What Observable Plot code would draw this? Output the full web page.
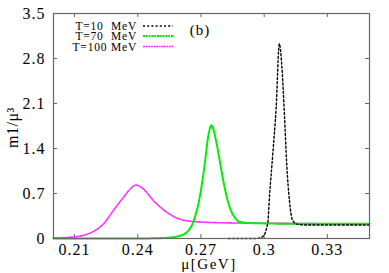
<!DOCTYPE html>
<html>
<head>
<meta charset="utf-8">
<script src="https://cdn.jsdelivr.net/npm/d3@7"></script>
<script src="https://cdn.jsdelivr.net/npm/@observablehq/plot@0.6"></script>
<style>
  html, body { margin: 0; padding: 0; background: #fff; }
  svg { display: block; }
</style>
</head>
<body>
<div id="chart"></div>
<script>
// ---- data ----
const mu10 = [0.283, 0.290, 0.296, 0.2993, 0.3017, 0.3025, 0.3041, 0.3057, 0.3072, 0.3083, 0.3096, 0.3107, 0.3120, 0.3135, 0.3159, 0.320, 0.330, 0.340, 0.350];
const m10  = [0.0,   0.0,   0.0,   0.03,   0.24,   0.64,   1.32,   2.04,   3.03,   2.72,   1.94,   1.16,   0.59,   0.28,   0.22,   0.21,  0.21,  0.21,  0.21];

const mu70 = [0.200, 0.210, 0.220, 0.230, 0.240, 0.250, 0.2553, 0.260, 0.2647, 0.2671, 0.2694, 0.2718, 0.2734, 0.2750, 0.2773, 0.2789, 0.2812, 0.2836, 0.2860, 0.2883, 0.2931, 0.300, 0.310, 0.320, 0.330, 0.340, 0.350];
const m70  = [0.0,   0.0,   0.0,   0.0,   0.0,   0.005, 0.015,  0.04,  0.15,   0.33,   0.64,   1.16,   1.58,   1.76,   1.50,   1.21,   0.80,   0.49,   0.33,   0.26,   0.24,   0.235, 0.23,  0.23,  0.23,  0.23,  0.23];

const mu100 = [0.200, 0.208, 0.2143, 0.219, 0.2238, 0.2285, 0.2332, 0.2364, 0.2392, 0.2427, 0.2474, 0.2521, 0.2592, 0.2647, 0.2742, 0.290, 0.310, 0.330, 0.350];
const m100  = [0.01,  0.02,  0.05,   0.11,  0.23,   0.44,   0.64,   0.77,   0.83,   0.77,   0.59,   0.45,   0.31,   0.27,   0.25,   0.24,  0.235, 0.23,  0.23];

const seriesLabels = ["T=10  MeV", "T=70  MeV", "T=100 MeV"];
const xTicks = [0.21, 0.24, 0.27, 0.30, 0.33];
const xTickLabels = ["0.21", "0.24", "0.27", "0.3", "0.33"];
const yTicks = [0, 0.7, 1.4, 2.1, 2.8, 3.5];
const yTickLabels = ["0", "0.7", "1.4", "2.1", "2.8", "3.5"];

const toRows = (xs, ys) => xs.map((x, i) => ({x, y: ys[i]}));
const d10 = toRows(mu10, m10), d70 = toRows(mu70, m70), d100 = toRows(mu100, m100);

const styles = [
  {stroke: "#000000", dash: "2,2.2", width: 1.4},
  {stroke: "#00ee00", dash: "2,0.8", width: 2},
  {stroke: "#ff33ff", dash: "2,0.6", width: 1.6}
];

const W = 389, H = 273;
const mL = 53, mR = 20, mT = 13, mB = 35;
const frameH = H - mT - mB, frameW = W - mL - mR;
const T = 4; // tick length
const font = "'Liberation Serif', 'DejaVu Serif', serif";

const chart = Plot.plot({
  width: W, height: H,
  marginLeft: mL, marginRight: mR, marginTop: mT, marginBottom: mB,
  style: {fontFamily: font, fontSize: "16px", letterSpacing: "1px", color: "#000", background: "#fff", overflow: "visible"},
  x: {domain: [0.2, 0.35]},
  y: {domain: [0, 3.5]},
  marks: [
    // inward ticks, all four sides
    Plot.ruleX(xTicks, {x: d => d, insetTop: frameH - T, stroke: "#666"}),
    Plot.ruleX(xTicks, {x: d => d, insetBottom: frameH - T, stroke: "#666"}),
    Plot.ruleY(yTicks, {y: d => d, insetRight: frameW - T, stroke: "#666"}),
    Plot.ruleY(yTicks, {y: d => d, insetLeft: frameW - T, stroke: "#666"}),
    Plot.axisX({ticks: xTicks, tickSize: 0, tickPadding: 5, tickFormat: (d, i) => xTickLabels[i], fontSize: 16, label: null}),
    Plot.axisY({ticks: yTicks, tickSize: 0, tickPadding: 8, tickFormat: (d, i) => yTickLabels[i], fontSize: 16, label: null}),
    Plot.line(d100, {x: "x", y: "y", curve: "monotone-x", stroke: styles[2].stroke, strokeWidth: styles[2].width, strokeDasharray: styles[2].dash}),
    Plot.line(d70, {x: "x", y: "y", curve: "monotone-x", stroke: styles[1].stroke, strokeWidth: styles[1].width, strokeDasharray: styles[1].dash}),
    Plot.line(d10, {x: "x", y: "y", curve: "monotone-x", stroke: styles[0].stroke, strokeWidth: styles[0].width, strokeDasharray: styles[0].dash}),
    Plot.frame({stroke: "#666", strokeWidth: 1.2})
  ]
});

const svg = d3.select(chart);

// axis titles
svg.append("text")
  .attr("transform", `translate(18,${mT + frameH / 2 + 2}) rotate(-90)`)
  .attr("text-anchor", "middle")
  .attr("font-family", font).attr("font-size", 16).attr("fill", "#000")
  .style("letter-spacing", "0.5px")
  .text("m1/μ³");
svg.append("text")
  .attr("x", 209).attr("y", 269)
  .attr("text-anchor", "middle")
  .attr("font-family", font).attr("font-size", 15).attr("fill", "#000")
  .style("letter-spacing", "1.5px")
  .text("μ[GeV]");

// panel label
svg.append("text")
  .attr("x", 200).attr("y", 35)
  .attr("font-family", font).attr("font-size", 15).attr("fill", "#000")
  .text("(b)");

// legend
const legY = [26, 36, 46.5];
seriesLabels.forEach((lab, i) => {
  svg.append("text")
    .attr("x", 137).attr("y", legY[i] + 4.2)
    .attr("text-anchor", "end")
    .attr("font-family", font).attr("font-size", 11.5).attr("fill", "#000")
    .style("letter-spacing", "0.8px")
    .text(lab);
  svg.append("line")
    .attr("x1", 143).attr("x2", 173).attr("y1", legY[i]).attr("y2", legY[i])
    .attr("stroke", styles[i].stroke).attr("stroke-width", styles[i].width)
    .attr("stroke-dasharray", styles[i].dash);
});

document.getElementById("chart").appendChild(chart);
</script>
</body>
</html>
